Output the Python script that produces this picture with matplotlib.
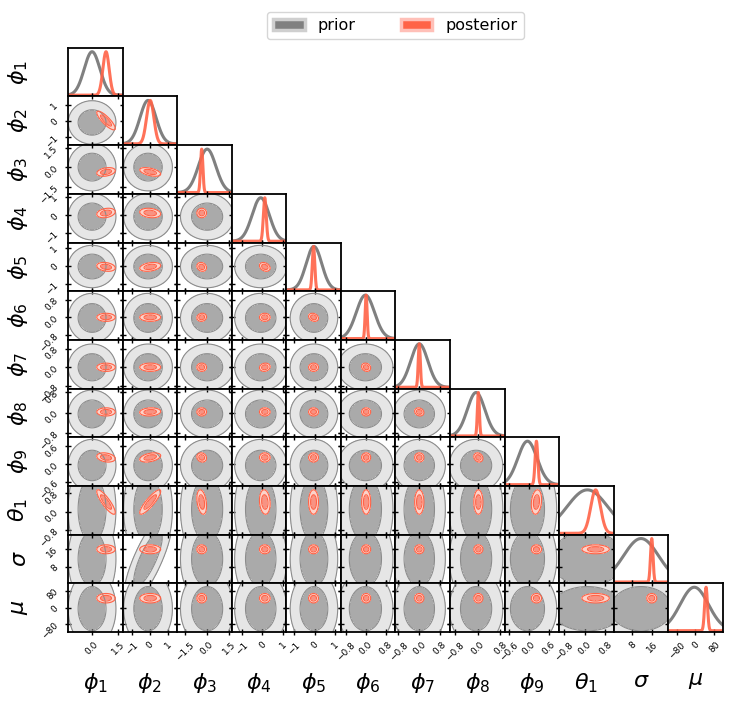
import numpy as np
import matplotlib
matplotlib.use("Agg")
import matplotlib.pyplot as plt
from matplotlib.patches import Patch

# parameter names, axis ranges and ticks
labels = [r"$\phi_1$", r"$\phi_2$", r"$\phi_3$", r"$\phi_4$", r"$\phi_5$", r"$\phi_6$",
          r"$\phi_7$", r"$\phi_8$", r"$\phi_9$", r"$\theta_1$", r"$\sigma$", r"$\mu$"]
lo = [-1.38, -1.5, -2.05, -1.5, -1.38, -1.03, -0.92, -0.97, -0.74, -1.0, 0.5, -116]
hi = [1.75, 1.5, 1.68, 1.17, 1.28, 1.19, 1.18, 0.95, 0.9, 1.12, 22.4, 116]
ticks = [[0.0, 1.5], [-1, 0, 1], [-1.5, 0.0, 1.5], [-1, 0, 1], [-1, 0, 1],
         [-0.8, 0.0, 0.8], [-0.8, 0.0, 0.8], [-0.8, 0.0, 0.8], [-0.6, 0.0, 0.6],
         [-0.8, 0.0, 0.8], [8, 16], [-80, 0, 80]]

# prior / posterior summaries
prior_mean = [0.0, -0.1, 0.0, -0.08, -0.03, -0.03, 0.0, -0.05, -0.05, 0.1, 11.5, -5]
prior_sd = [0.45, 0.44, 0.6, 0.42, 0.38, 0.37, 0.33, 0.31, 0.29, 0.8, 7.0, 60]
post_mean = [0.8, 0.02, -0.37, 0.12, -0.05, 0.0, 0.0, 0.03, 0.22, 0.42, 15.8, 45]
post_sd = [0.18, 0.2, 0.08, 0.07, 0.06, 0.04, 0.04, 0.035, 0.04, 0.19, 0.5, 6]

# (x index, y index, correlation)
prior_corr = [(1, 10, 0.8)]
post_corr = [(0, 1, -0.98), (0, 2, 0.5), (1, 2, -0.8), (0, 3, 0.4), (1, 3, -0.3),
             (0, 4, -0.4), (1, 4, 0.5), (2, 4, -0.4), (3, 4, -0.6), (2, 5, 0.3),
             (4, 5, -0.6), (3, 6, 0.3), (5, 6, -0.5), (1, 7, 0.2), (6, 7, -0.5),
             (0, 8, -0.4), (1, 8, 0.6), (2, 8, -0.3), (7, 8, -0.5), (0, 9, -0.97),
             (1, 9, 0.97), (2, 9, -0.5), (3, 9, -0.2), (8, 9, 0.3)]

n = len(labels)
prior_style = (1.75, 3.0, "#aaaaaa", "#e6e6e6", "#8c8c8c")
post_style = (1.6, 2.7, "#f89383", "#fcd3ca", "tomato")


def corr_of(table, a, b):
    for i, j, r in table:
        if (i, j) == (a, b) or (i, j) == (b, a):
            return r
    return 0.0


def draw_2d(ax, j, i, mean, sd, table, style):
    r_in, r_out, c_in, c_out, c_line = style
    gx = np.linspace(lo[j], hi[j], 200)
    gy = np.linspace(lo[i], hi[i], 200)
    X, Y = np.meshgrid(gx, gy)
    hx = 0.025 * (hi[j] - lo[j])
    hy = 0.025 * (hi[i] - lo[i])
    sx = np.sqrt(sd[j] ** 2 + hx ** 2)
    sy = np.sqrt(sd[i] ** 2 + hy ** 2)
    r = corr_of(table, j, i) * sd[j] * sd[i] / (sx * sy)
    u = (X - mean[j]) / sx
    v = (Y - mean[i]) / sy
    d2 = (u ** 2 - 2 * r * u * v + v ** 2) / (1 - r ** 2)
    ax.contourf(X, Y, d2, levels=[0, r_in ** 2, r_out ** 2], colors=[c_in, c_out])
    ax.contour(X, Y, d2, levels=[r_in ** 2, r_out ** 2], colors=c_line, linewidths=0.8)


fig = plt.figure(figsize=(7.36, 7.03), dpi=100)
gs = fig.add_gridspec(n, n, left=0.0924, right=0.982, top=0.932, bottom=0.101,
                      wspace=0, hspace=0)

for i in range(n):
    for j in range(i + 1):
        ax = fig.add_subplot(gs[i, j])
        ax.set_xlim(lo[j], hi[j])
        ax.set_xticks(ticks[j])
        if i == j:
            x = np.linspace(lo[j], hi[j], 400)
            ax.plot(x, np.exp(-0.5 * ((x - prior_mean[j]) / prior_sd[j]) ** 2),
                    color="gray", lw=2.2)
            ax.plot(x, np.exp(-0.5 * ((x - post_mean[j]) / post_sd[j]) ** 2),
                    color="tomato", lw=2.2, alpha=0.9)
            ax.set_ylim(-0.03, 1.09)
            ax.set_yticks([])
            ax.tick_params(axis="x", direction="inout", length=5, width=1)
        else:
            draw_2d(ax, j, i, prior_mean, prior_sd, prior_corr, prior_style)
            draw_2d(ax, j, i, post_mean, post_sd, post_corr, post_style)
            ax.set_ylim(lo[i], hi[i])
            ax.set_yticks(ticks[i])
            ax.tick_params(direction="inout", length=5, width=1, top=True, right=True)
        ax.tick_params(labelsize=6.5, labelleft=(j == 0 and i > 0),
                       labelbottom=(i == n - 1))
        ax.tick_params(axis="x", labelrotation=45)
        ax.tick_params(axis="y", labelrotation=45)
        for s in ax.spines.values():
            s.set_linewidth(1.3)
        if j == 0:
            ax.set_ylabel(labels[i], fontsize=16)
            ax.yaxis.set_label_coords(-0.7, 0.5)
        if i == n - 1:
            ax.set_xlabel(labels[j], fontsize=16)
            ax.xaxis.set_label_coords(0.5, -0.8)

handles = [Patch(facecolor="gray", edgecolor="#cfcfcf", linewidth=2.5),
           Patch(facecolor="tomato", edgecolor="#ffc0b8", linewidth=2.5)]
fig.legend(handles, ["prior", "posterior"], loc="upper center",
           bbox_to_anchor=(0.537, 0.995), ncol=2, fontsize=11.5, columnspacing=2.8)

fig.savefig("out.png", dpi=100)
